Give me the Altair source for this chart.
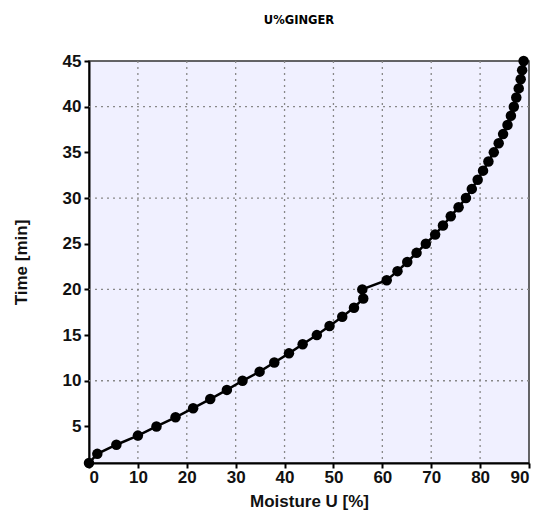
import altair as alt
import pandas as pd

time_min = list(range(1, 46))
moisture = [0.0, 1.7, 5.6, 10.0, 13.8, 17.7, 21.3, 24.8, 28.2, 31.4,
            34.9, 37.9, 40.9, 43.7, 46.6, 49.2, 51.8, 54.2, 56.1, 55.9,
            60.9, 63.1, 65.1, 67.0, 68.9, 70.8, 72.4, 74.0, 75.6, 77.1,
            78.3, 79.5, 80.6, 81.7, 82.8, 83.8, 84.7, 85.6, 86.3, 86.9,
            87.4, 87.9, 88.3, 88.6, 88.9]
x_ticks = [0, 10, 20, 30, 40, 50, 60, 70, 80, 90]
x_grid = [10, 20, 30, 40, 50, 60, 70, 80]
y_ticks = [5, 10, 15, 20, 25, 30, 35, 40, 45]
y_grid = [10, 20, 30, 40]

df = pd.DataFrame({"U": moisture, "t": time_min})
gx = pd.DataFrame({"v": x_grid})
gy = pd.DataFrame({"v": y_grid})

FONT = "Liberation Sans"
xscale = alt.Scale(domain=[0, 90], nice=False, zero=False)
yscale = alt.Scale(domain=[1, 45], nice=False, zero=False)

x_enc = alt.X("U:Q", scale=xscale, title="Moisture U [%]",
              axis=alt.Axis(values=x_ticks, grid=False, labelFont=FONT,
                            labelFontSize=17, labelFontWeight="bold",
                            labelColor="#111", titleFont=FONT,
                            titleFontSize=17, titleFontWeight="bold",
                            titleColor="#111", domainColor="#000",
                            domainWidth=2, tickColor="#000", tickWidth=2,
                            tickSize=5, labelPadding=1, titlePadding=8))
y_enc = alt.Y("t:Q", scale=yscale, title="Time [min]",
              axis=alt.Axis(values=y_ticks, grid=False, labelFont=FONT,
                            labelFontSize=17, labelFontWeight="bold",
                            labelColor="#111", titleFont=FONT,
                            titleFontSize=17, titleFontWeight="bold",
                            titleColor="#111", domainColor="#000",
                            domainWidth=2, tickColor="#000", tickWidth=2,
                            tickSize=5, labelPadding=3, titlePadding=32))

grid_style = dict(color="#888888", strokeDash=[2, 4], strokeWidth=1.3)
vgrid = alt.Chart(gx).mark_rule(**grid_style).encode(
    x=alt.X("v:Q", scale=xscale))
hgrid = alt.Chart(gy).mark_rule(**grid_style).encode(
    y=alt.Y("v:Q", scale=yscale))

line = alt.Chart(df).mark_line(color="#000", strokeWidth=2.5, clip=False).encode(
    x=x_enc, y=y_enc, order="t:Q")
pts = alt.Chart(df).mark_circle(color="#000", size=110, opacity=1, clip=False).encode(
    x=alt.X("U:Q", scale=xscale), y=alt.Y("t:Q", scale=yscale))

chart = alt.layer(vgrid, hgrid, line, pts).properties(
    width=440, height=402,
    autosize=alt.AutoSizeParams(type="none"),
    padding={"left": 81, "top": 53, "right": 5, "bottom": 49},
    title=alt.TitleParams("U%GINGER", font="DejaVu Sans", fontSize=11.5,
                          fontWeight="bold", color="#000", anchor="middle",
                          offset=26, dx=-10),
).configure_view(fill="#F0F0FF", stroke="#333", strokeWidth=1.5)

chart.save("out.html", embed_options={"renderer": "svg", "actions": False})
